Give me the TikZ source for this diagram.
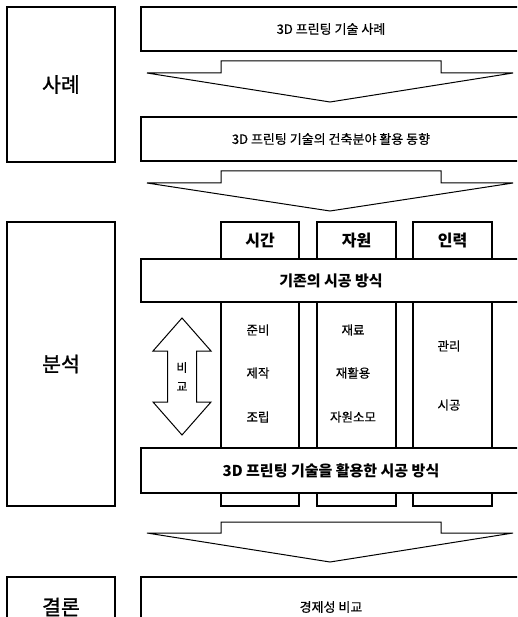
\documentclass[tikz,border=0pt]{standalone}
\usepackage{fontspec}
\setmainfont{Noto Sans CJK KR}
\newfontfamily\medfont{Noto Sans CJK KR}[FakeBold=1.2]
\newfontfamily\regfont{Noto Sans CJK KR}[FakeBold=0.4]
\begin{document}
\begin{tikzpicture}[x=1pt,y=-1pt,
  box/.style={draw,line width=1.3pt,fill=white,rectangle,inner sep=0pt,outer sep=0pt},
  big/.style={font=\medfont\fontsize{20.5}{24}\selectfont},
  small/.style={font=\regfont\fontsize{13}{15}\selectfont},
  head/.style={font=\bfseries\fontsize{16}{18}\selectfont},
  bar/.style={font=\bfseries\fontsize{15}{17}\selectfont},
  blockarrow/.style={draw,line width=1pt,fill=white,line join=miter},
  coltext/.style={font=\regfont\fontsize{12.5}{15}\selectfont}]
\useasboundingbox (0,0) rectangle (517,617);
\clip (0,0) rectangle (517,617);
% left category boxes
\node[box,minimum width=108,minimum height=155,big] (sarye) at (61,84.5) {사례};
\node[box,minimum width=108,minimum height=284,big] (bunseok) at (61,364) {분석};
\node[box,minimum width=108,minimum height=60,big] (gyeollon) at (61,607) {결론};
% top boxes
\node[box,minimum width=380,minimum height=44,small] (t1) at (331,29) {3D 프린팅 기술 사례};
\node[box,minimum width=380,minimum height=44,small] (t2) at (331,139) {3D 프린팅 기술의 건축분야 활용 동향};
% block arrows
\draw[blockarrow] (221,61) -- (441,61) -- (441,73) -- (513,73) -- (330,102) -- (147,73) -- (221,73) -- cycle;
\draw[blockarrow] (221,171) -- (441,171) -- (441,183) -- (513,183) -- (330,211) -- (147,183) -- (221,183) -- cycle;
\draw[blockarrow] (221,522) -- (441,522) -- (441,533) -- (513,533) -- (330,562) -- (147,533) -- (221,533) -- cycle;
% columns
\node[box,minimum width=78,minimum height=284] (c1) at (260,364) {};
\node[box,minimum width=79,minimum height=284] (c2) at (356.5,364) {};
\node[box,minimum width=79,minimum height=284] (c3) at (452.5,364) {};
\node[head] (h1) at (260,241) {시간};
\node[head] (h2) at (356.5,241) {자원};
\node[head] (h3) at (452.5,241) {인력};
% bars
\node[box,minimum width=380,minimum height=43,bar] (gijon) at (331,280.5) {기존의 시공 방식};
\node[box,minimum width=380,minimum height=45,bar] (print) at (331,470.5) {3D 프린팅 기술을 활용한 시공 방식};
% column texts
\node[coltext] (a1) at (258,330) {준비};
\node[coltext] (a2) at (258,373) {제작};
\node[coltext] (a3) at (258,417) {조립};
\node[coltext] (b1) at (353,330) {재료};
\node[coltext] (b2) at (353,373) {재활용};
\node[coltext] (b3) at (353,417) {자원소모};
\node[coltext] (d1) at (449,346) {관리};
\node[coltext] (d2) at (449,405) {시공};
% double arrow
\draw[blockarrow] (182,318) -- (211,351) -- (196.5,351) -- (196.5,402) -- (211,402) -- (182,435) -- (153,402) -- (167.5,402) -- (167.5,351) -- (153,351) -- cycle;
\node[align=center,font=\regfont\fontsize{12}{19}\selectfont] (cmp) at (182,376.5) {비\\교};
% conclusion box
\node[box,minimum width=380,minimum height=60,small] (g) at (331,607) {경제성 비교};
\end{tikzpicture}
\end{document}
